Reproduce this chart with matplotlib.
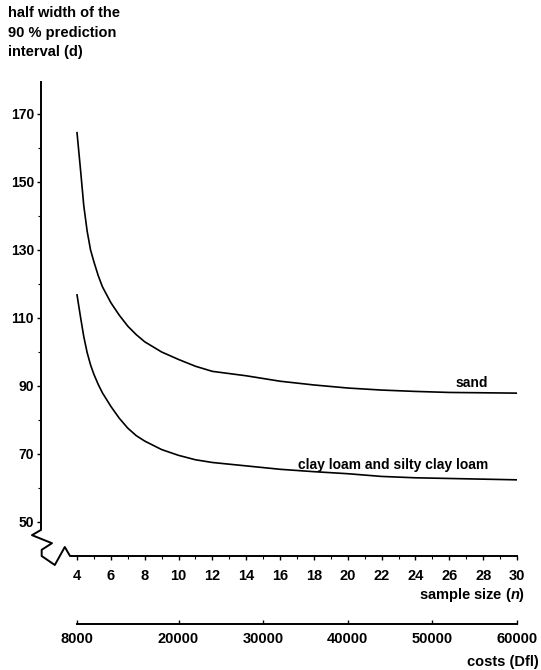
import numpy as np
import matplotlib.pyplot as plt
from matplotlib.lines import Line2D

plt.rcParams['font.family'] = ['Liberation Sans', 'DejaVu Sans']
plt.rcParams['font.weight'] = 'bold'
plt.rcParams['mathtext.fontset'] = 'custom'
plt.rcParams['mathtext.it'] = 'Liberation Sans:italic:bold'

# values
n_sand = [4, 4.2, 4.4, 4.6, 4.8, 5, 5.25, 5.5, 6, 6.5, 7, 7.5, 8, 9, 10, 11, 12, 14, 16,
          18, 20, 22, 24, 26, 28, 30]
w_sand = [164.5, 154, 143, 135.5, 130, 126.5, 122.5, 119.2, 114.5, 110.8, 107.6, 105.1,
          103, 100, 97.8, 95.8, 94.3, 93, 91.4, 90.3, 89.4, 88.8, 88.4, 88.1, 88, 87.9]

n_clay = [4, 4.2, 4.4, 4.6, 4.8, 5, 5.25, 5.5, 6, 6.5, 7, 7.5, 8, 9, 10, 11, 12, 14, 16,
          18, 20, 22, 24, 26, 28, 30]
w_clay = [116.8, 110.5, 104.5, 99.8, 96.2, 93.4, 90.5, 88, 84, 80.5, 77.6, 75.4, 73.8,
          71.3, 69.6, 68.3, 67.5, 66.5, 65.5, 64.8, 64.2, 63.4, 63, 62.8, 62.6, 62.4]

n_ticks = list(range(4, 31, 2))
y_ticks = [50, 70, 90, 110, 130, 150, 170]
cost_ticks = [8000, 20000, 30000, 40000, 50000, 60000]

W, H = 541, 670
fig = plt.figure(figsize=(W / 100, H / 100), dpi=100)
ax = fig.add_axes([41 / W, 1 - 556 / H, 476 / W, 474 / H])

ax.plot(n_sand, w_sand, color='black', lw=1.2)
ax.plot(n_clay, w_clay, color='black', lw=1.2)

ax.set_xlim(1.872, 30)
ax.set_ylim(40, 179.4)

for s in ax.spines.values():
    s.set_visible(False)

# axes lines with the break symbol
bx = [0, 0, -0.019, 0.023, 0.0014, 0.0014, 0.029, 0.050, 0.061, 1.0]
by = [1, 0.055, 0.044, 0.027, 0.013, 0, -0.019, 0.019, 0, 0]
ax.add_line(Line2D(bx, by, transform=ax.transAxes, color='black', lw=1.4, clip_on=False))

ax.set_xticks(n_ticks)
ax.set_xticks(range(5, 30, 2), minor=True)
ax.set_yticks(y_ticks)
ax.set_yticks(range(60, 170, 20), minor=True)
ax.tick_params(axis='both', which='major', direction='out', length=3, width=1, pad=2)
ax.tick_params(axis='both', which='minor', direction='out', length=2, width=0.8)
ax.tick_params(axis='y', labelsize=10)
ax.tick_params(axis='x', labelsize=10.5, pad=6)

ax.text(27.3, 90.9, 'sand', ha='center', va='center', fontsize=10)
ax.text(22.7, 66.8, 'clay loam and silty clay loam', ha='center', va='center', fontsize=10)

# costs axis
cax = fig.add_axes([77 / W, 1 - 624 / H, 440 / W, 0.0001])
cax.set_xlim(8000, 60000)
cax.set_yticks([])
for k in ['top', 'left', 'right']:
    cax.spines[k].set_visible(False)
cax.spines['bottom'].set_linewidth(1.4)
cax.set_xticks(cost_ticks)
cax.tick_params(axis='x', direction='in', length=3, width=1, labelsize=10.5, pad=6)

fig.text(8 / W, 1 - 6 / H, 'half width of the\n90 % prediction\ninterval (d)',
         ha='left', va='top', fontsize=10.5, linespacing=1.5)
fig.text(525 / W, 1 - 595 / H, 'sample size ($n$)', ha='right', va='center', fontsize=10.5)
fig.text(539 / W, 1 - 662 / H, 'costs (Dfl)', ha='right', va='center', fontsize=10.5)

fig.savefig('out.png', dpi=100)
